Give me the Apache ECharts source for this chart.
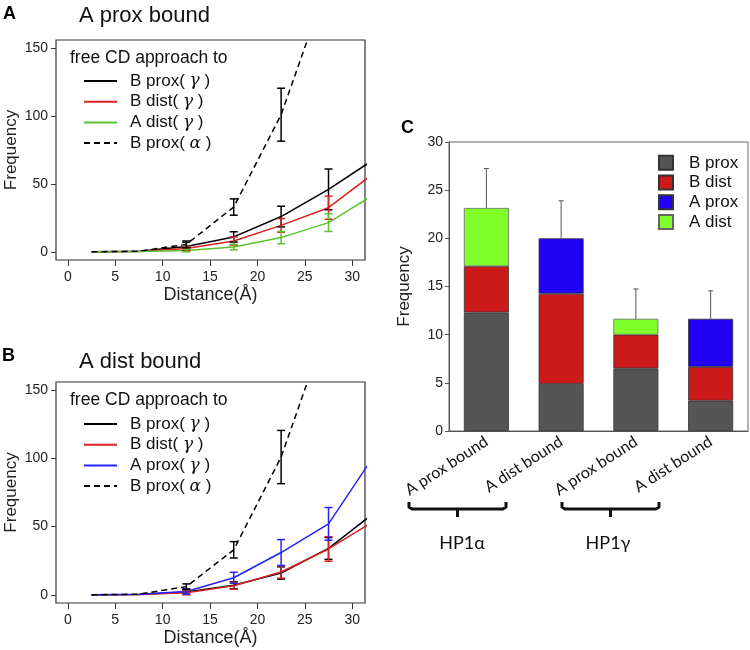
<!DOCTYPE html>
<html><head><meta charset="utf-8">
<script src="https://cdn.jsdelivr.net/npm/echarts@6/dist/echarts.min.js"></script>
<style>html,body{margin:0;padding:0;background:#fff}#c{width:750px;height:650px}</style>
</head><body><div id="c"></div>
<script>
// ---- Panels A/B: distance bins ----
const distX = [2.5, 7.5, 12.5, 17.5, 22.5, 27.5, 32.5];
const xTicks = [0, 5, 10, 15, 20, 25, 30];
const yTicksAB = [0, 50, 100, 150];

// Panel A (A prox bound)
const aBproxG = [0, 0.5, 4, 11, 26, 46, 69];
const aBdistG = [0, 0.3, 2.5, 8, 19.5, 32.5, 59];
const aAdistG = [0, 0.2, 1, 3.5, 10.5, 21.5, 43];
const aBproxA = [0, 0.5, 5.5, 33, 101, 200, 330];
const aBproxGErr = [null, null, 3, 3.8, 7.6, 15, null];
const aBdistGErr = [null, null, 1.5, 3, 5, 8.5, null];
const aAdistGErr = [null, null, 1, 2, 4.5, 6.5, null];
const aBproxAErr = [null, null, 2.5, 6, 19.5, null, null];

// Panel B (A dist bound)
const bBproxG = [0, 0.3, 2, 7, 16, 34, 61];
const bBdistG = [0, 0.3, 1.5, 6.6, 16.7, 33.6, 55];
const bAproxG = [0, 0.4, 2.5, 12.5, 31, 52, 104];
const bBproxA = [0, 0.5, 6, 33, 101, 200, 330];
const bBproxGErr = [null, null, 1.5, 2.5, 4.5, 8, null];
const bBdistGErr = [null, null, 1.5, 2.5, 4.5, 9, null];
const bAproxGErr = [null, null, 2, 4, 9.5, 12, null];
const bBproxAErr = [null, null, 2, 6, 19.5, null, null];

// ---- Panel C: stacked bars ----
const cCats = ['A prox bound', 'A dist bound', 'A prox bound', 'A dist bound'];
const cBprox = [12.3, 4.9, 6.5, 3.15];
const cBdist = [4.8, 9.35, 3.5, 3.5];
const cAprox = [null, 5.75, null, 5.0];
const cAdist = [6.05, null, 1.65, null];
const cErr = [4.1, 3.9, 3.1, 2.9];
const cGroups = ['HP1α', 'HP1γ'];

const FONT = 'Liberation Sans';
const CAL = 'Lato';
const COL = {black: '#000000', red: '#d82222', green: '#5cc22c', blue: '#2222ff'};

function lineS(name, gi, vals, color, dashed) {
  return {
    type: 'line', name: name, xAxisIndex: gi, yAxisIndex: gi,
    data: distX.map((x, i) => [x, vals[i]]),
    symbol: 'none', clip: true, z: 3,
    lineStyle: {color: color, width: 1.5, type: dashed ? [6, 4] : 'solid'},
    itemStyle: {color: color}
  };
}
function errS(gi, vals, errs, color) {
  const d = [];
  distX.forEach((x, i) => { if (errs[i] != null) d.push([x, vals[i] - errs[i], vals[i] + errs[i]]); });
  return {
    type: 'custom', xAxisIndex: gi, yAxisIndex: gi, clip: true, z: 4,
    encode: {x: 0, y: [1, 2]},
    data: d,
    renderItem: function (params, api) {
      const x = api.value(0);
      const p1 = api.coord([x, api.value(1)]);
      const p2 = api.coord([x, api.value(2)]);
      const w = 4;
      const st = {stroke: color, lineWidth: 1.5};
      return {type: 'group', children: [
        {type: 'line', shape: {x1: p1[0], y1: p1[1], x2: p2[0], y2: p2[1]}, style: st},
        {type: 'line', shape: {x1: p1[0] - w, y1: p1[1], x2: p1[0] + w, y2: p1[1]}, style: st},
        {type: 'line', shape: {x1: p2[0] - w, y1: p2[1], x2: p2[0] + w, y2: p2[1]}, style: st}
      ]};
    }
  };
}
function xAxAB(gi) {
  return {
    type: 'value', gridIndex: gi, min: -1.25, max: 31.35,
    axisLine: {show: false, onZero: false}, splitLine: {show: false},
    axisTick: {show: true, length: 6, customValues: xTicks, lineStyle: {color: '#333', width: 1}},
    axisLabel: {customValues: xTicks, fontSize: 14, color: '#222', margin: 10, fontFamily: FONT},
    name: 'Distance(Å)', nameLocation: 'middle', nameGap: 26,
    nameTextStyle: {fontSize: 18, color: '#222', fontFamily: FONT}
  };
}
function yAxAB(gi) {
  return {
    type: 'value', gridIndex: gi, min: -6, max: 156,
    axisLine: {show: false, onZero: false}, splitLine: {show: false},
    axisTick: {show: true, length: 5, customValues: yTicksAB, lineStyle: {color: '#333', width: 1}},
    axisLabel: {customValues: yTicksAB, fontSize: 14, color: '#222', margin: 8, fontFamily: FONT},
    name: 'Frequency', nameLocation: 'middle', nameGap: 36,
    nameTextStyle: {fontSize: 17, color: '#222', fontFamily: FONT}
  };
}
function legAB(names, top) {
  return {
    data: names, orient: 'vertical', left: 83, top: top, padding: 0,
    itemWidth: 33, itemHeight: 14, itemGap: 0.7,
    itemStyle: {opacity: 0},
    formatter: function (n) {
      const m = n.match(/^(.*)\((.)\)$/);
      return m[1] + '( {g|' + m[2] + '} )';
    },
    textStyle: {fontSize: 17, lineHeight: 20, color: '#111', fontFamily: FONT, padding: [0, 0, 0, 8],
      rich: {g: {fontSize: 17, fontStyle: 'italic', fontFamily: 'DejaVu Serif', color: '#111'}}}
  };
}

const totals = cBprox.map((v, i) => (v || 0) + (cBdist[i] || 0) + (cAprox[i] || 0) + (cAdist[i] || 0));

function txt(x, y, s, size, opts) {
  return Object.assign({type: 'text', x: x, y: y, style: Object.assign({text: s, fontSize: size, fontFamily: FONT, fill: '#111', textVerticalAlign: 'middle'}, opts || {})});
}
function brace(x1, x2, y) {
  const xm = (x1 + x2) / 2;
  return [
    {type: 'polyline', shape: {points: [[x1, y - 7], [x1, y - 2], [x1 + 3, y], [x2 - 3, y], [x2, y - 2], [x2, y - 7]]},
      style: {stroke: '#111', lineWidth: 3, fill: null, lineJoin: 'round'}},
    {type: 'line', shape: {x1: xm, y1: y, x2: xm, y2: y + 8}, style: {stroke: '#111', lineWidth: 3}}
  ];
}

const option = {
  animation: false,
  backgroundColor: '#fff',
  grid: [
    {left: 56, top: 40, width: 309, height: 220, show: true, borderColor: '#333', borderWidth: 1.2, backgroundColor: 'transparent'},
    {left: 56, top: 382, width: 309, height: 221, show: true, borderColor: '#333', borderWidth: 1.2, backgroundColor: 'transparent'},
    {left: 449, top: 142, width: 299, height: 289, show: true, borderColor: '#666', borderWidth: 1, backgroundColor: 'transparent'}
  ],
  xAxis: [xAxAB(0), xAxAB(1), {
    type: 'category', gridIndex: 2, data: cCats,
    axisLine: {show: true, lineStyle: {color: '#555'}}, axisTick: {show: false},
    axisLabel: {interval: 0, rotate: 33, fontSize: 16, fontFamily: CAL, color: '#111', margin: 9}
  }],
  yAxis: [yAxAB(0), yAxAB(1), {
    type: 'value', gridIndex: 2, min: 0, max: 30, interval: 5,
    axisLine: {show: true, lineStyle: {color: '#555'}}, splitLine: {show: false},
    axisTick: {show: true, length: 4, lineStyle: {color: '#555'}},
    axisLabel: {fontSize: 14, color: '#222', margin: 6, fontFamily: FONT},
    name: 'Frequency', nameLocation: 'middle', nameGap: 36,
    nameTextStyle: {fontSize: 17, color: '#222', fontFamily: FONT}
  }],
  legend: [
    legAB(['B prox(γ)', 'B dist(γ)', 'A dist(γ)', 'B prox(α)'], 71),
    legAB(['B prox(γ)', 'B dist(γ)', 'A prox(γ)', 'B prox(α)'], 414),
    {
      data: ['B prox', 'B dist', 'A prox', 'A dist'], orient: 'vertical', left: 658, top: 153, padding: 0,
      icon: 'rect', itemWidth: 14, itemHeight: 14, itemGap: 0,
      textStyle: {fontSize: 17, lineHeight: 19.7, color: '#111', fontFamily: FONT, padding: [0, 0, 0, 11]}
    }
  ],
  series: [
    lineS('B prox(γ)', 0, aBproxG, COL.black),
    lineS('B dist(γ)', 0, aBdistG, COL.red),
    lineS('A dist(γ)', 0, aAdistG, COL.green),
    lineS('B prox(α)', 0, aBproxA, COL.black, true),
    errS(0, aBproxG, aBproxGErr, COL.black),
    errS(0, aBdistG, aBdistGErr, COL.red),
    errS(0, aAdistG, aAdistGErr, COL.green),
    errS(0, aBproxA, aBproxAErr, COL.black),

    lineS('B prox(γ)', 1, bBproxG, COL.black),
    lineS('B dist(γ)', 1, bBdistG, COL.red),
    lineS('A prox(γ)', 1, bAproxG, COL.blue),
    lineS('B prox(α)', 1, bBproxA, COL.black, true),
    errS(1, bBproxG, bBproxGErr, COL.black),
    errS(1, bBdistG, bBdistGErr, COL.red),
    errS(1, bAproxG, bAproxGErr, COL.blue),
    errS(1, bBproxA, bBproxAErr, COL.black),

    {type: 'bar', name: 'B prox', stack: 'c', xAxisIndex: 2, yAxisIndex: 2, data: cBprox, barWidth: 45,
      itemStyle: {color: '#555555', borderColor: '#333', borderWidth: 0.8}},
    {type: 'bar', name: 'B dist', stack: 'c', xAxisIndex: 2, yAxisIndex: 2, data: cBdist, barWidth: 45,
      itemStyle: {color: '#cc1a1a', borderColor: '#333', borderWidth: 0.8}},
    {type: 'bar', name: 'A prox', stack: 'c', xAxisIndex: 2, yAxisIndex: 2, data: cAprox, barWidth: 45,
      itemStyle: {color: '#2200f5', borderColor: '#333', borderWidth: 0.8}},
    {type: 'bar', name: 'A dist', stack: 'c', xAxisIndex: 2, yAxisIndex: 2, data: cAdist, barWidth: 45,
      itemStyle: {color: '#80ff2a', borderColor: '#666', borderWidth: 0.8}},
    {
      type: 'custom', xAxisIndex: 2, yAxisIndex: 2, z: 5,
      data: totals.map((t, i) => [i, t, t + cErr[i]]),
      encode: {x: 0, y: [1, 2]},
      renderItem: function (params, api) {
        const p1 = api.coord([api.value(0), api.value(1)]);
        const p2 = api.coord([api.value(0), api.value(2)]);
        const st = {stroke: '#555', lineWidth: 1};
        return {type: 'group', children: [
          {type: 'line', shape: {x1: p1[0], y1: p1[1], x2: p2[0], y2: p2[1]}, style: st},
          {type: 'line', shape: {x1: p2[0] - 2.5, y1: p2[1], x2: p2[0] + 2.5, y2: p2[1]}, style: st}
        ]};
      }
    }
  ],
  graphic: [
    txt(3, 14, 'A', 18, {fontWeight: 'bold', fill: '#000'}),
    txt(79, 16, 'A prox bound', 22),
    txt(70, 58, 'free CD approach to', 17.5),
    txt(2, 356, 'B', 18, {fontWeight: 'bold', fill: '#000'}),
    txt(79, 362, 'A dist bound', 22),
    txt(70, 400, 'free CD approach to', 17.5),
    txt(401, 128, 'C', 18, {fontWeight: 'bold', fill: '#000'}),
    txt(462, 543, cGroups[0], 18, {fontFamily: CAL, textAlign: 'center'}),
    txt(608, 543, cGroups[1], 18, {fontFamily: CAL, textAlign: 'center'})
  ].concat(brace(409, 506, 509), brace(562, 659, 509))
};

const chart = echarts.init(document.getElementById('c'), null, {renderer: 'canvas'});
chart.setOption(option);
</script>
</body></html>
